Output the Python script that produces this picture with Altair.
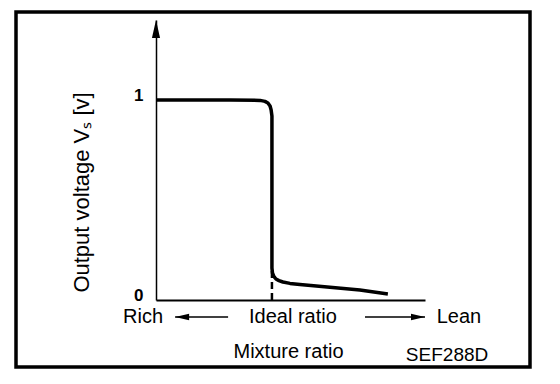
import altair as alt
import pandas as pd

# Curve: output voltage vs mixture ratio (arbitrary x units, 0..100)
curve_x = [0, 27.5, 38.7, 40.5, 41.6, 42.4, 42.8, 43.1, 43.1, 43.3, 43.8, 44.6, 45.7, 47.2, 49.8, 53.5, 75.8, 86.2]
curve_y = [1.0, 1.0, 0.998, 0.993, 0.985, 0.97, 0.95, 0.92, 0.16, 0.135, 0.118, 0.105, 0.097, 0.09, 0.083, 0.078, 0.05, 0.03]

ideal_x = 43.1
ideal_dash_top = 0.15

y_ticks = [0, 1]
x_domain = [0, 100]
y_domain = [0, 1.4]

# Annotation row below the axis
row_labels = ["Rich", "Ideal ratio", "Lean"]
row_x = [-4.8, 50.9, 112.6]
row_y = -0.085
left_arrow = [26.8, 7.1]     # from, to (tip)
right_arrow = [77.7, 100.0]  # from, to (tip)
arrow_y = -0.085

code_label = "SEF288D"
code_x = 108.2
code_y = -0.275

FONT = "Liberation Sans"

curve_df = pd.DataFrame({"x": curve_x, "y": curve_y, "i": list(range(len(curve_x)))})
xs = alt.Scale(domain=x_domain, nice=False, zero=False)
ys = alt.Scale(domain=y_domain, nice=False, zero=False)

curve = alt.Chart(curve_df).mark_line(color="black", strokeWidth=3.5, strokeJoin="round", strokeCap="butt").encode(
    x=alt.X("x:Q", scale=xs, axis=alt.Axis(
        ticks=False, labels=False, grid=False, domainColor="black", domainWidth=2,
        title="Mixture ratio", titleFont=FONT, titleFontSize=20, titleFontWeight="normal",
        titleColor="black", titleX=132, titleY=57, titleBaseline="alphabetic", titleAlign="center")),
    y=alt.Y("y:Q", scale=ys, axis=alt.Axis(
        values=y_ticks, format="d", ticks=False, grid=False, domainColor="black", domainWidth=1.5,
        labelFont=FONT, labelFontSize=17, labelFontWeight="bold", labelColor="black",
        labelPadding=13, labelBaseline="middle", labelOffset=-5,
        title="Output voltage Vₛ [v]", titleFont=FONT, titleFontSize=22, titleFontWeight="normal",
        titleColor="black", titleAngle=-90, titleX=-75, titleY=172,
        titleAlign="center", titleBaseline="middle")),
    order=alt.Order("i:Q"),
)

one = pd.DataFrame({"a": [0]})

frame = alt.Chart(one).mark_rect(fillOpacity=0, stroke="black", strokeWidth=3.5).encode(
    x=alt.value(-140), x2=alt.value(374), y=alt.value(-8), y2=alt.value(347))

dash = alt.Chart(pd.DataFrame({"x": [ideal_x], "y0": [0], "y1": [ideal_dash_top]})).mark_rule(
    color="black", strokeWidth=2.5, strokeDash=[7, 4]).encode(
    x=alt.X("x:Q", scale=xs), y=alt.Y("y0:Q", scale=ys), y2="y1:Q")

y_arrow = alt.Chart(pd.DataFrame({"x": [0], "y": [y_domain[1]]})).mark_point(
    shape="M0,0L0.45,2L-0.45,2Z", filled=True, color="black", opacity=1, size=324).encode(
    x=alt.X("x:Q", scale=xs), y=alt.Y("y:Q", scale=ys))

arrows_df = pd.DataFrame({
    "x0": [left_arrow[0], right_arrow[0]],
    "x1": [left_arrow[1], right_arrow[1]],
    "y": [arrow_y, arrow_y],
})
arrow_lines = alt.Chart(arrows_df).mark_rule(color="black", strokeWidth=1.5).encode(
    x=alt.X("x0:Q", scale=xs), x2="x1:Q", y=alt.Y("y:Q", scale=ys))

left_head = alt.Chart(pd.DataFrame({"x": [left_arrow[1]], "y": [arrow_y]})).mark_point(
    shape="M0,0L2,-0.45L2,0.45Z", filled=True, color="black", opacity=1, size=196).encode(
    x=alt.X("x:Q", scale=xs), y=alt.Y("y:Q", scale=ys))
right_head = alt.Chart(pd.DataFrame({"x": [right_arrow[1]], "y": [arrow_y]})).mark_point(
    shape="M0,0L-2,-0.45L-2,0.45Z", filled=True, color="black", opacity=1, size=196).encode(
    x=alt.X("x:Q", scale=xs), y=alt.Y("y:Q", scale=ys))

row_df = pd.DataFrame({"label": row_labels, "x": row_x, "y": [row_y] * len(row_labels)})
row_text = alt.Chart(row_df).mark_text(font=FONT, fontSize=20, color="black", baseline="middle", align="center").encode(
    x=alt.X("x:Q", scale=xs), y=alt.Y("y:Q", scale=ys), text="label:N")

code_text = alt.Chart(pd.DataFrame({"label": [code_label], "x": [code_x], "y": [code_y]})).mark_text(
    font=FONT, fontSize=19, color="black", baseline="middle", align="center").encode(
    x=alt.X("x:Q", scale=xs), y=alt.Y("y:Q", scale=ys), text="label:N")

chart = alt.layer(frame, curve, dash, y_arrow, arrow_lines, left_head, right_head, row_text, code_text).properties(
    width=269, height=280,
    autosize=alt.AutoSizeParams(type="none"),
    padding={"left": 148, "top": 12, "right": 127, "bottom": 76},
    background="white",
).configure_view(stroke=None)

chart.save("out.html", embed_options={"renderer": "svg", "actions": False})
